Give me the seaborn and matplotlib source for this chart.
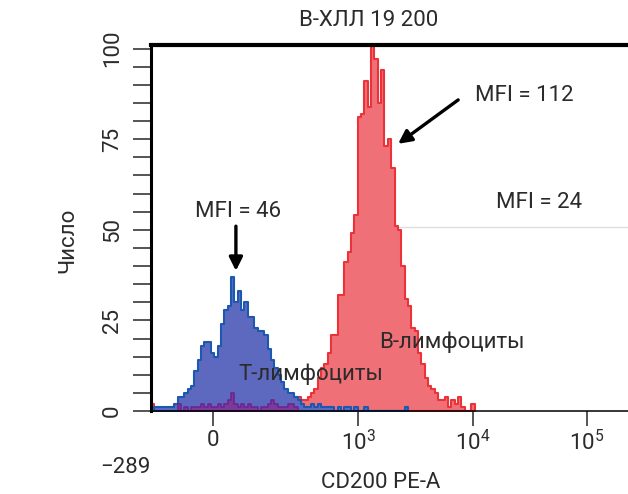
import numpy as np
import pandas as pd
import matplotlib
matplotlib.use("Agg")
import matplotlib.pyplot as plt
import seaborn as sns
from matplotlib.ticker import FixedLocator, MultipleLocator

# ---- values -----------------------------------------------------------------
# counts per channel; the axis (-173 .. 228000) is cut into 143 equal
# channels in asinh display space, channel 0 sits at the left edge
n_channels = 143
x_min, x_max = -173, 228000

# T-lymphocytes (blue), first value is channel 0
blue_start = 0
blue_counts = [0, 1, 1, 1, 1, 1, 1, 2, 4, 4, 5, 6, 7, 11, 14, 18, 19, 19, 16, 15,
               18, 24, 28, 29, 37, 30, 33, 28, 30, 26, 26, 23, 22, 22, 21, 17, 14, 12,
               10, 8, 6, 5, 5, 4, 3, 2, 1, 1, 2, 1, 2, 1, 1, 1, 1, 0, 1, 0, 1, 1,
               0, 1, 0, 0, 1, 0, 0, 0, 0, 0, 0, 0, 0, 0, 0, 0, 1]

# B-lymphocytes (red), first value is channel 36
red_start = 36
red_counts = [1, 0, 1, 0, 1, 2, 3, 4, 4, 3, 3, 4, 5, 6, 9, 12, 13, 16, 21, 21,
              32, 32, 41, 44, 49, 54, 81, 82, 91, 84, 104, 97, 85, 94, 73, 75, 67, 51,
              50, 40, 31, 29, 23, 22, 16, 13, 9, 7, 6, 5, 3, 3, 4, 1, 3, 2, 4, 1,
              0, 0, 2]
red_edge_left = [2]  # small red bar right at the left edge (channel 0)

# control (purple), first value is channel 8
purple_start = 8
purple_counts = [2, 0, 1, 0, 1, 1, 1, 2, 1, 2, 1, 1, 2, 1, 2, 3, 5, 2, 1, 2,
                 1, 2, 1, 1, 0, 1, 1, 2, 3, 2, 1, 1, 1, 2, 2, 1]

x_ticks = [0, 1e3, 1e4, 1e5]
x_ticklabels = ["0", r"$\mathregular{10^3}$", r"$\mathregular{10^4}$",
                r"$\mathregular{10^5}$"]
y_ticks = [0, 25, 50, 75, 100]

# ---- scale ------------------------------------------------------------------
C = 108.0


def fwd(x):
    return np.arcsinh(np.asarray(x, dtype=float) / C)


def inv(y):
    return C * np.sinh(np.asarray(y, dtype=float))


grid = np.linspace(fwd(x_min), fwd(x_max), n_channels + 1)
edges = inv(grid)
centers = inv((grid[:-1] + grid[1:]) / 2)


def draw_channels(ax, start, counts, face, edge, lw, z):
    # one step histogram over just the channels this population occupies
    stop = start + len(counts)
    df = pd.DataFrame({"x": centers[start:stop], "n": counts})
    sns.histplot(data=df, x="x", weights="n", bins=list(edges[start:stop + 1]),
                 element="step", fill=True, facecolor=face, edgecolor=edge,
                 linewidth=lw, ax=ax, zorder=z)


# ---- figure -------------------------------------------------------------------
sns.set_style("white")
plt.rcParams["font.family"] = ["Roboto", "DejaVu Sans"]
plt.rcParams["mathtext.fontset"] = "custom"
plt.rcParams["mathtext.rm"] = "Roboto"
txt = "#2b2b2b"
fs = 16

fig = plt.figure(figsize=(6.28, 4.94), dpi=100)
ax = fig.add_axes([151 / 628, 83 / 494, 477 / 628, 366 / 494])

red_face, red_edge = "#f07078", "#eb3238"
draw_channels(ax, 0, red_edge_left, red_face, red_edge, 1.5, 1.2)
draw_channels(ax, red_start, red_counts, red_face, red_edge, 1.5, 1.2)
draw_channels(ax, blue_start, blue_counts, "#5d69bf", "#1c58b0", 1.5, 1.4)
draw_channels(ax, purple_start, purple_counts, "#7a3a98", "#6c2590", 1.2, 1.6)

# biexponential-like display scale, applied once the histograms are built
ax.set_xscale("function", functions=(fwd, inv))

ax.axhline(50.8, xmin=0.518, xmax=1, color="#dcdcdc", lw=0.9, zorder=1)

ax.set_xlim(x_min, x_max)
ax.set_ylim(0, 101)
ax.set_xlabel("")
ax.set_ylabel("")

ax.xaxis.set_major_locator(FixedLocator(x_ticks))
ax.set_xticklabels(x_ticklabels)
ax.xaxis.set_minor_locator(FixedLocator([]))
ax.yaxis.set_major_locator(FixedLocator(y_ticks))
ax.yaxis.set_minor_locator(MultipleLocator(5))

ax.tick_params(axis="x", which="major", direction="out", length=11, width=1.1,
               pad=3, labelsize=fs, labelcolor=txt, bottom=True)
ax.tick_params(axis="y", which="both", direction="out", length=13, width=1.1,
               pad=7, labelsize=fs, labelcolor=txt, left=True)
for lab in ax.get_yticklabels():
    lab.set_rotation(90)
    lab.set_va("center")

ax.spines["right"].set_visible(False)
ax.spines["top"].set_linewidth(3)
ax.spines["left"].set_linewidth(2.2)
ax.spines["bottom"].set_linewidth(1.1)
for s in ax.spines.values():
    s.set_color("black")
    s.set_zorder(5)

# labels
fig.text(369 / 628, 1 - 20 / 494, "В-ХЛЛ 19 200", ha="center", va="center",
         fontsize=fs, color=txt)
fig.text(381 / 628, 1 - 482 / 494, "CD200 PE-A", ha="center", va="center",
         fontsize=fs, color=txt)
fig.text(68 / 628, 1 - 240 / 494, "Число", ha="center", va="center", rotation=90,
         fontsize=fs, color=txt)
fig.text(125 / 628, 1 - 467 / 494, "\u2212289", ha="center", va="center",
         fontsize=fs, color=txt)

# annotations
ax.text(0.182, 0.546, "MFI = 46", transform=ax.transAxes, ha="center", va="center",
        fontsize=fs, color=txt, zorder=6)
ax.text(0.782, 0.861, "MFI = 112", transform=ax.transAxes, ha="center", va="center",
        fontsize=fs, color=txt, zorder=6)
ax.text(0.813, 0.571, "MFI = 24", transform=ax.transAxes, ha="center", va="center",
        fontsize=fs, color=txt, zorder=6)
ax.text(0.631, 0.189, "В-лимфоциты", transform=ax.transAxes, ha="center",
        va="center", fontsize=fs, color=txt, zorder=6)
ax.text(0.335, 0.101, "Т-лимфоциты", transform=ax.transAxes, ha="center",
        va="center", fontsize=fs, color=txt, zorder=6)

ax.annotate("", xy=(0.178, 0.383), xytext=(0.178, 0.505), xycoords="axes fraction",
            arrowprops=dict(arrowstyle="-|>", lw=2.4, color="black",
                            mutation_scale=20, shrinkA=0, shrinkB=0), zorder=6)
ax.annotate("", xy=(0.518, 0.730), xytext=(0.644, 0.850), xycoords="axes fraction",
            arrowprops=dict(arrowstyle="-|>", lw=2.4, color="black",
                            mutation_scale=20, shrinkA=0, shrinkB=0), zorder=6)

fig.savefig("out.png", dpi=100)
